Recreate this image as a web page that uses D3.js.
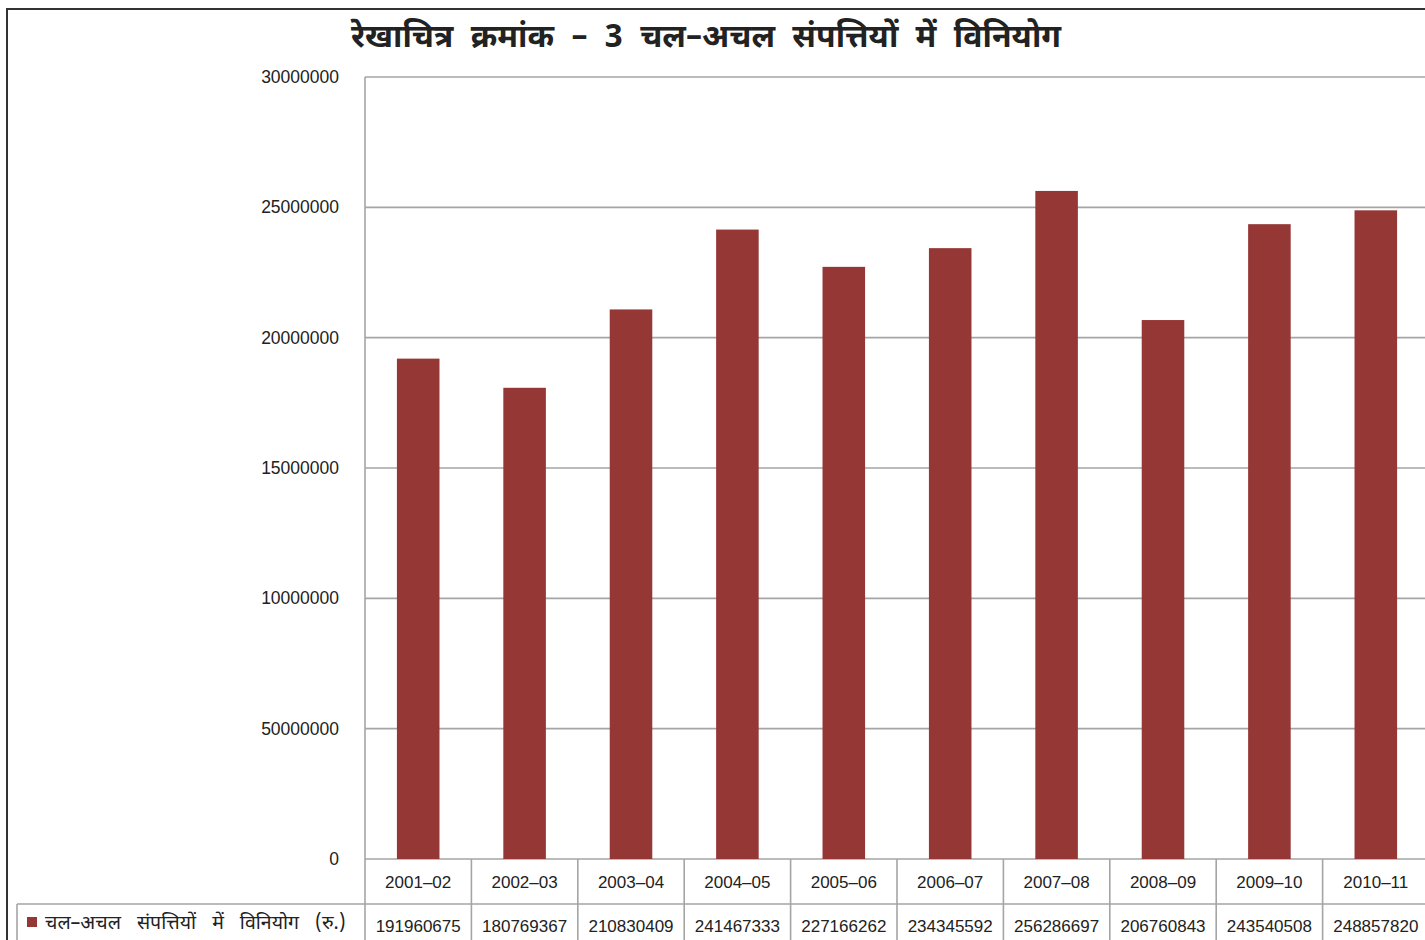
<!DOCTYPE html>
<html lang="hi">
<head>
<meta charset="utf-8">
<title>रेखाचित्र क्रमांक – 3</title>
<script src="https://d3js.org/d3.v7.min.js"></script>
<style>
  body { margin: 0; background: #fff; overflow: hidden; }
  svg { display: block; }
  .num { font-family: "Liberation Sans", Arial, sans-serif; fill: #222; }
  .deva { font-family: "Noto Sans Devanagari", "Lohit Devanagari", "Mangal", "FreeSans", sans-serif; fill: #222; }
</style>
</head>
<body>
<div id="chart"></div>
<script>
// data (table row)
const categories = ["2001–02", "2002–03", "2003–04", "2004–05", "2005–06",
                    "2006–07", "2007–08", "2008–09", "2009–10", "2010–11"];
const values = [191960675, 180769367, 210830409, 241467333, 227166262,
                234345592, 256286697, 206760843, 243540508, 248857820];
const tickValues = [0, 50000000, 100000000, 150000000, 200000000, 250000000, 300000000];
// axis labels as printed on the original (note the odd "50000000")
const tickLabels = ["0", "50000000", "10000000", "15000000", "20000000", "25000000", "30000000"];
const title = "रेखाचित्र क्रमांक – 3 चल–अचल संपत्तियों में विनियोग";
const seriesName = "चल–अचल संपत्तियों में विनियोग (रु.)";

const W = 1425, H = 940;
const plot = {left: 365, top: 77, bottom: 859, right: 1429};
const rowH = 45;
const barColor = "#953735";
const gridColor = "#a5a5a5";

const svg = d3.select("#chart").append("svg")
    .attr("width", W).attr("height", H);

// outer frame
svg.append("rect")
    .attr("x", 7).attr("y", 9)
    .attr("width", W + 20).attr("height", H + 20)
    .attr("fill", "#fff")
    .attr("stroke", "#333").attr("stroke-width", 2);

svg.append("text")
    .attr("class", "deva")
    .attr("x", 706).attr("y", 47)
    .attr("text-anchor", "middle")
    .attr("font-size", 32).attr("font-weight", "bold")
    .attr("word-spacing", 9)
    .text(title);

const x = d3.scaleBand().domain(categories).range([plot.left, plot.right]).padding(0);
const y = d3.scaleLinear().domain([0, 300000000]).range([plot.bottom, plot.top]);

// gridlines
svg.append("g")
  .selectAll("line")
  .data(tickValues)
  .join("line")
    .attr("x1", plot.left).attr("x2", plot.right)
    .attr("y1", d => y(d)).attr("y2", d => y(d))
    .attr("stroke", gridColor).attr("stroke-width", 1.6);

// y axis labels
const yAxis = svg.append("g")
    .attr("transform", `translate(${plot.left - 26},0)`)
    .call(d3.axisLeft(y).tickValues(tickValues)
        .tickFormat((d, i) => tickLabels[i]).tickSize(0).tickPadding(0));
yAxis.select(".domain").remove();
yAxis.selectAll("text")
    .attr("class", "num")
    .attr("font-size", 17.5)
    .attr("dy", "0.32em");

// bars
const bw = x.bandwidth() * 0.4;
svg.append("g")
  .selectAll("rect")
  .data(values)
  .join("rect")
    .attr("x", (d, i) => x(categories[i]) + (x.bandwidth() - bw) / 2)
    .attr("y", d => y(d))
    .attr("width", bw)
    .attr("height", d => y(0) - y(d))
    .attr("fill", barColor);

// left axis line
svg.append("line")
    .attr("x1", plot.left).attr("x2", plot.left)
    .attr("y1", plot.top).attr("y2", H)
    .attr("stroke", gridColor).attr("stroke-width", 1.6);

// data table
const table = svg.append("g");
table.append("line")
    .attr("x1", 17).attr("x2", plot.right)
    .attr("y1", plot.bottom + rowH).attr("y2", plot.bottom + rowH)
    .attr("stroke", gridColor).attr("stroke-width", 1.6);
table.append("line")
    .attr("x1", 17).attr("x2", 17)
    .attr("y1", plot.bottom + rowH).attr("y2", H)
    .attr("stroke", gridColor).attr("stroke-width", 1.6);
table.selectAll("line.col")
  .data(categories)
  .join("line")
    .attr("class", "col")
    .attr("x1", d => x(d) + x.bandwidth()).attr("x2", d => x(d) + x.bandwidth())
    .attr("y1", plot.bottom).attr("y2", H)
    .attr("stroke", gridColor).attr("stroke-width", 1.6);

table.selectAll("text.cat")
  .data(categories)
  .join("text")
    .attr("class", "cat num")
    .attr("x", d => x(d) + x.bandwidth() / 2)
    .attr("y", plot.bottom + rowH / 2 + 6)
    .attr("text-anchor", "middle")
    .attr("font-size", 17)
    .text(d => d);

table.selectAll("text.val")
  .data(values)
  .join("text")
    .attr("class", "val num")
    .attr("x", (d, i) => x(categories[i]) + x.bandwidth() / 2)
    .attr("y", plot.bottom + rowH + 28)
    .attr("text-anchor", "middle")
    .attr("font-size", 17)
    .text(d => d);

// legend key in the table
table.append("rect")
    .attr("x", 27).attr("y", 917)
    .attr("width", 10).attr("height", 10)
    .attr("fill", barColor);
table.append("text")
    .attr("class", "deva")
    .attr("x", 45).attr("y", 929)
    .attr("font-size", 19.5)
    .attr("word-spacing", 11)
    .text(seriesName);
</script>
</body>
</html>
